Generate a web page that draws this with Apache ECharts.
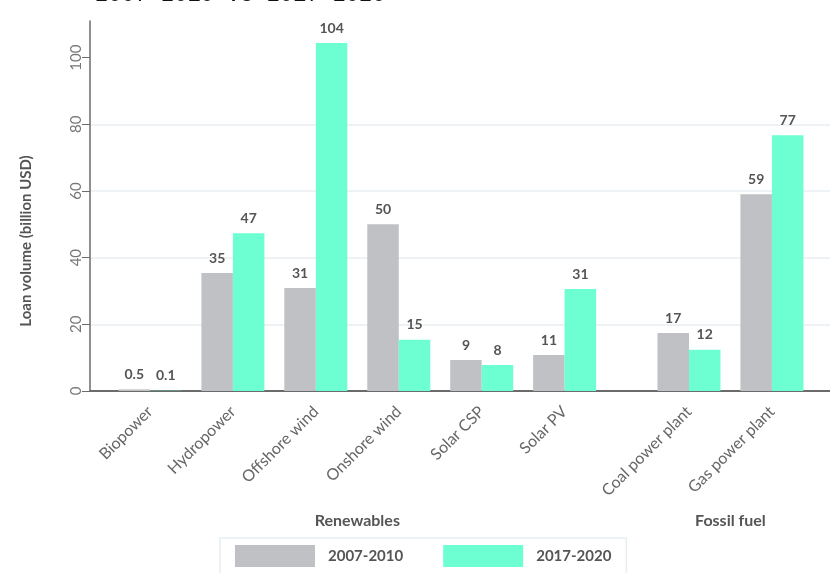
<!DOCTYPE html>
<html>
<head>
<meta charset="utf-8">
<script src="https://cdn.jsdelivr.net/npm/echarts@6/dist/echarts.min.js"></script>
<style>html,body{margin:0;padding:0;background:#fff}#c{width:830px;height:573px}</style>
</head>
<body>
<div id="c"></div>
<script>
const titleText = '2007-2010 vs 2017-2020';
const categories = ['Biopower','Hydropower','Offshore wind','Onshore wind','Solar CSP','Solar PV','Coal power plant','Gas power plant'];
const groups = ['Renewables','Renewables','Renewables','Renewables','Renewables','Renewables','Fossil fuel','Fossil fuel'];
const seriesNames = ['2007-2010','2017-2020'];
const values2007 = [0.5, 35.4, 30.9, 50.0, 9.3, 10.8, 17.4, 59.0];
const values2017 = [0.1, 47.3, 104.4, 15.4, 7.8, 30.6, 12.4, 76.7];
const yTicks = [0, 20, 40, 60, 80, 100];
const yAxisName = 'Loan volume (billion USD)';

const FONT = 'Lato';
const colors = ['#c0c1c5', '#6dffd1'];
const groupNames = ['Renewables', 'Fossil fuel'];
const YMAX = 111;

function pick(arr, g) { return arr.filter((_, i) => groups[i] === g); }
function fmt(v) { return v < 1 ? v.toFixed(1) : String(Math.round(v)); }

const grids = [
  { left: 90, right: 0, top: 21, bottom: 182 },
  { left: 108.5, width: 497.6, top: 21, bottom: 182 },
  { left: 647.5, width: 165.9, top: 21, bottom: 182 }
];
const xAxes = [
  { gridIndex: 0, type: 'category', data: [''],
    axisLine: { show: true, lineStyle: { color: '#6b6b6b', width: 2 } },
    axisTick: { show: false }, axisLabel: { show: false }, splitLine: { show: false } }
];
const yAxes = [
  { gridIndex: 0, type: 'value', min: 0, max: YMAX, interval: 20,
    name: yAxisName, nameLocation: 'middle', nameGap: 56,
    nameTextStyle: { fontFamily: FONT, fontWeight: 'bold', fontSize: 15, color: '#555', padding: [0, 70, 0, 0] },
    axisLine: { show: true, lineStyle: { color: '#6b6b6b', width: 1.5 } },
    axisTick: { show: true, length: 8, customValues: yTicks, lineStyle: { color: '#6b6b6b' } },
    axisLabel: { customValues: yTicks, rotate: 90, fontFamily: FONT, fontSize: 15, color: '#777', margin: 6 },
    splitLine: { show: true, showMaxLine: false, lineStyle: { color: '#e8eef2', width: 1.5 } }
  }
];
const series = [];
groupNames.forEach((g, gi) => {
  const idx = gi + 1;
  xAxes.push({
    gridIndex: idx, type: 'category', data: pick(categories, g),
    name: g, nameLocation: 'middle', nameGap: 122,
    nameTextStyle: { fontFamily: FONT, fontWeight: 'bold', fontSize: 16, color: '#555' },
    axisLine: { show: false }, axisTick: { show: false },
    axisLabel: { rotate: 45, interval: 0, fontFamily: FONT, fontSize: 16, color: '#666', margin: 18 }
  });
  yAxes.push({ gridIndex: idx, type: 'value', min: 0, max: YMAX, show: false });
  [values2007, values2017].forEach((vals, si) => {
    series.push({
      type: 'bar', name: seriesNames[si], xAxisIndex: idx, yAxisIndex: idx,
      data: pick(vals, g), barWidth: 31.5, barGap: '0%',
      itemStyle: { color: colors[si] },
      label: { show: true, position: 'top', distance: 8, formatter: p => fmt(p.value),
        fontFamily: FONT, fontWeight: 'bold', fontSize: 14, color: '#555' }
    });
  });
});

const chart = echarts.init(document.getElementById('c'), null, { renderer: 'canvas' });
chart.setOption({
  animation: false,
  backgroundColor: '#fff',
  color: colors,
  title: { text: titleText, left: 90, top: -20.5,
    textStyle: { fontFamily: 'Liberation Mono', fontSize: 22, fontWeight: 'normal', color: '#111' } },
  grid: grids,
  xAxis: xAxes,
  yAxis: yAxes,
  legend: {
    data: seriesNames, left: 220, top: 538, orient: 'horizontal',
    itemWidth: 80, itemHeight: 22, itemGap: 40, icon: 'rect',
    padding: [7, 15, 10, 15],
    borderColor: '#e6eef2', borderWidth: 1.5,
    textStyle: { fontFamily: FONT, fontWeight: 'bold', fontSize: 15, color: '#555', padding: [0, 0, 0, 8] }
  },
  series: series
});
</script>
</body>
</html>
